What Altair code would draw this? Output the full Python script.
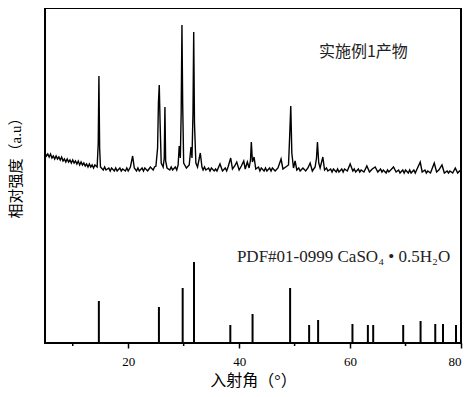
import altair as alt
import pandas as pd

# Measured XRD trace (2θ in degrees, relative intensity)
trace_points = [
    (5.0, 190), (5.25, 187), (5.5, 189), (5.75, 186), (6.0, 189), (6.25, 185), (6.5, 187),
    (6.75, 184), (7.0, 187), (7.25, 184), (7.5, 186), (7.75, 183), (8.0, 186), (8.25, 182),
    (8.5, 184), (8.75, 181), (9.0, 184), (9.25, 181), (9.5, 183), (9.75, 180), (10.0, 183),
    (10.25, 180), (10.5, 182), (10.75, 179), (11.0, 182), (11.25, 178), (11.5, 181),
    (11.75, 178), (12.0, 180), (12.25, 177), (12.5, 179), (12.75, 176), (13.0, 179),
    (13.25, 176), (13.5, 178), (13.75, 175), (14.0, 178), (14.4, 176),
    (14.6, 200), (14.72, 267), (14.85, 195), (15.0, 176), (15.5, 173), (15.75, 176), (16.0, 173),
    (16.5, 175), (16.75, 172), (17.0, 175), (17.5, 172), (17.75, 175), (18.0, 172), (18.5, 175),
    (18.75, 172), (19.0, 174), (19.5, 172), (19.75, 175), (20.0, 172), (20.4, 176), (20.8, 187),
    (21.1, 175), (21.5, 172), (21.75, 175), (22.0, 172), (22.5, 175), (22.75, 172),
    (23.0, 175), (23.5, 172), (23.75, 174), (24.0, 176), (24.5, 173), (24.75, 176),
    (25.0, 177), (25.3, 195), (25.45, 240), (25.6, 258), (25.75, 220), (25.95, 180),
    (26.3, 176), (26.5, 185), (26.62, 236), (26.75, 182), (27.0, 175), (27.5, 173),
    (27.75, 176), (28.0, 173), (28.5, 176), (28.75, 173), (29.0, 178), (29.2, 197), (29.4, 185),
    (29.55, 230), (29.69, 318), (29.82, 240), (30.0, 180), (30.5, 175), (31.0, 178),
    (31.32, 196), (31.5, 185), (31.68, 230), (31.81, 311), (31.95, 220), (32.2, 180),
    (32.5, 176), (33.0, 190), (33.3, 176), (33.5, 173), (33.75, 176), (34.0, 173), (34.5, 175),
    (34.75, 172), (35.0, 175), (35.5, 172), (35.75, 174), (36.0, 172), (36.55, 179),
    (37.0, 172), (37.5, 175), (37.75, 172), (38.0, 176), (38.48, 185), (38.8, 174), (39.2, 177),
    (39.57, 181), (40.0, 173), (40.4, 177), (40.83, 182), (41.1, 174), (41.48, 181),
    (41.8, 175), (42.05, 183), (42.2, 201), (42.4, 181), (42.69, 186), (43.0, 174),
    (43.5, 176), (43.75, 172), (44.0, 175), (44.5, 172), (44.75, 175), (45.0, 172),
    (45.5, 175), (45.75, 172), (46.0, 175), (46.5, 172), (47.0, 175), (47.56, 184),
    (47.9, 174), (48.4, 176), (48.9, 178), (49.1, 205), (49.31, 237), (49.5, 190),
    (49.8, 175), (50.09, 182), (50.4, 173), (50.75, 175), (51.0, 172), (51.5, 175), (52.0, 172),
    (52.4, 175), (52.8, 180), (53.2, 172), (53.7, 176), (53.95, 185), (54.12, 201),
    (54.35, 180), (54.6, 175), (55.09, 186), (55.4, 173), (55.75, 175), (56.0, 172),
    (56.5, 174), (56.75, 171), (57.0, 174), (57.5, 171), (57.75, 174), (58.0, 171),
    (58.5, 174), (58.75, 171), (59.0, 174), (59.5, 172), (60.02, 179), (60.5, 172),
    (60.75, 174), (61.0, 171), (61.5, 174), (61.75, 171), (62.0, 173), (62.5, 171),
    (63.03, 177), (63.5, 171), (64.0, 174), (64.53, 176), (65.0, 171), (65.5, 174),
    (65.75, 171), (66.0, 173), (66.5, 170), (66.75, 173), (67.0, 171), (67.83, 176),
    (68.3, 171), (68.75, 173), (69.0, 170), (69.5, 173), (69.75, 170), (70.0, 173),
    (70.5, 170), (70.75, 173), (71.0, 170), (71.5, 173), (71.75, 170), (72.0, 173),
    (72.65, 181), (73.0, 171), (73.5, 173), (73.75, 170), (74.0, 172), (74.5, 170),
    (75.18, 180), (75.6, 171), (76.0, 173), (76.57, 178), (77.0, 170), (77.5, 172),
    (77.75, 170), (78.0, 172), (78.5, 170), (78.97, 175), (79.4, 170), (79.75, 172), (80.0, 171),
]

# PDF#01-0999 reference lines
pdf_positions = [14.71, 25.54, 29.82, 31.86, 38.41, 42.42, 49.19, 52.62, 54.24,
                 60.43, 63.21, 64.17, 69.58, 72.71, 75.36, 76.75, 79.10]
pdf_heights = [42, 36, 55, 81, 18, 29, 55, 18, 23, 19, 18, 18, 18, 22, 19, 19, 18]

major_ticks = [20, 40, 60, 80]
minor_ticks = [10, 30, 50, 70]

sample_label = "实施例1产物"
pdf_label = "PDF#01-0999 CaSO₄ • 0.5H₂O"

df_trace = pd.DataFrame(trace_points, columns=["x", "y"])
df_pdf = pd.DataFrame({"x": pdf_positions, "y": pdf_heights, "y2": [0] * len(pdf_positions)})
df_minor = pd.DataFrame({"x": minor_ticks})

xs = alt.Scale(domain=[5, 80], nice=False, zero=False)
ys = alt.Scale(domain=[0, 335], nice=False)

xaxis = alt.Axis(
    values=major_ticks, format="d", grid=False, domain=False,
    tickSize=5, tickColor="black", tickWidth=1.5,
    labelFont="Liberation Serif", labelFontSize=13, labelColor="black", labelPadding=7,
    title="入射角（°）", titleFont="Liberation Serif, Noto Sans CJK SC", titleFontSize=16,
    titleFontWeight="normal", titleColor="black", titlePadding=4,
)
yaxis = alt.Axis(
    labels=False, ticks=False, domain=False, grid=False,
    title="相对强度（a.u）", titleFont="Liberation Serif, Noto Sans CJK SC", titleFontSize=15,
    titleFontWeight="normal", titleColor="black", titleAngle=270,
    titleX=-30, titleY=156, titleAlign="center", titleBaseline="middle",
)

X = alt.X("x:Q", scale=xs, axis=xaxis)
Y = alt.Y("y:Q", scale=ys, axis=yaxis)

trace = alt.Chart(df_trace).mark_line(color="black", strokeWidth=1.4).encode(x=X, y=Y)
sticks = alt.Chart(df_pdf).mark_rule(color="black", strokeWidth=2).encode(x=X, y=Y, y2="y2:Q")
minor = alt.Chart(df_minor).mark_rule(color="black", strokeWidth=1.5).encode(
    x=X, y=alt.value(335), y2=alt.value(338)
)
t1 = alt.Chart(pd.DataFrame({"t": [sample_label]})).mark_text(
    font="Noto Sans CJK SC", fontSize=16, color="#222", align="center", baseline="middle"
).encode(x=alt.datum(62.4), y=alt.datum(291), text="t:N")
t2 = alt.Chart(pd.DataFrame({"t": [pdf_label]})).mark_text(
    font="Liberation Serif", fontSize=17, color="#222", align="left", baseline="middle"
).encode(x=alt.datum(39.6), y=alt.datum(86), text="t:N")

chart = alt.layer(trace, sticks, minor, t1, t2).properties(
    width=416, height=335,
    padding={"left": 37, "top": 0, "right": 5, "bottom": 46},
    autosize=alt.AutoSizeParams(type="none"),
    background="white",
).configure_view(stroke="black", strokeWidth=2)

chart.save("out.html", embed_options={"renderer": "svg", "actions": False})
